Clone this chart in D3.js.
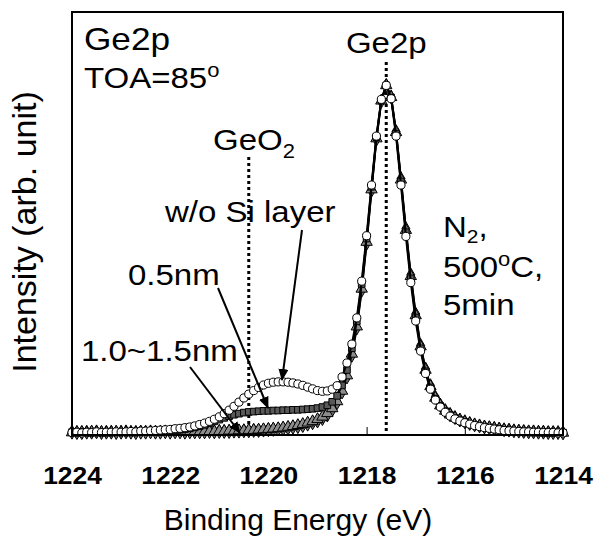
<!DOCTYPE html>
<html>
<head>
<meta charset="utf-8">
<script src="https://cdn.jsdelivr.net/npm/d3@7"></script>
<style>
  body { margin: 0; background: #fff; }
  text { font-family: "Liberation Sans", Arial, sans-serif; fill: #000; }
</style>
</head>
<body>
<div id="chart"></div>
<script>
// binding energy (eV), 0.1 eV steps
const energies = [
  1224.0,1223.9,1223.8,1223.7,1223.6,1223.5,1223.4,1223.3,1223.2,1223.1,
  1223.0,1222.9,1222.8,1222.7,1222.6,1222.5,1222.4,1222.3,1222.2,1222.1,
  1222.0,1221.9,1221.8,1221.7,1221.6,1221.5,1221.4,1221.3,1221.2,1221.1,
  1221.0,1220.9,1220.8,1220.7,1220.6,1220.5,1220.4,1220.3,1220.2,1220.1,
  1220.0,1219.9,1219.8,1219.7,1219.6,1219.5,1219.4,1219.3,1219.2,1219.1,
  1219.0,1218.9,1218.8,1218.7,1218.6,1218.5,1218.4,1218.3,1218.2,1218.1,
  1218.0,1217.9,1217.8,1217.7,1217.6,1217.5,1217.4,1217.3,1217.2,1217.1,
  1217.0,1216.9,1216.8,1216.7,1216.6,1216.5,1216.4,1216.3,1216.2,1216.1,
  1216.0,1215.9,1215.8,1215.7,1215.6,1215.5,1215.4,1215.3,1215.2,1215.1,
  1215.0,1214.9,1214.8,1214.7,1214.6,1214.5,1214.4,1214.3,1214.2,1214.1,
  1214.0
];

// normalized intensity (peak = 1000)
const woSi = [
  7,8,6,8,7,9,7,8,8,9,8,9,10,9,11,11,
  12,13,14,15,16,18,19,21,23,26,
  30,34,39,45,52,61,71,82,94,106,
  117,127,136,143,148,151,152,152,151,149,
  146,142,137,132,127,125,126,131,141,166,
  206,260,335,440,570,715,855,960,1000,962,
  855,715,568,436,326,240,176,131,100,80,
  65,54,46,40,35,31,27,24,21,19,
  17,15,13,12,11,10,9,9,8,8,
  7,7,7,6,6
];
const nm05 = [
  8,7,9,8,8,7,9,8,9,8,9,8,9,10,9,10,
  10,10,11,11,12,13,15,17,19,22,
  25,29,34,39,44,49,54,58,61,64,
  66,67,68,69,69,70,70,71,71,72,
  72,73,74,75,77,80,85,95,112,142,
  186,248,325,432,562,710,852,958,1000,965,
  862,725,580,448,336,248,182,136,104,83,
  68,57,48,42,37,32,28,25,22,20,
  18,16,14,13,12,11,10,10,9,9,
  8,8,7,7,7
];
const nm10 = [
  7,8,8,7,9,8,8,7,8,9,8,8,7,8,9,8,
  8,9,8,8,9,9,8,9,9,10,
  9,10,10,10,11,11,12,12,13,13,
  14,14,15,16,17,18,19,21,23,25,
  28,31,35,39,45,52,62,76,96,126,
  170,232,310,418,552,702,848,956,1000,966,
  866,730,586,454,342,253,186,139,106,84,
  69,58,49,42,37,33,29,26,23,21,
  19,17,15,13,12,11,10,9,9,8,
  8,7,7,6,6
];
const nm15 = [
  8,7,7,8,8,9,7,8,8,7,8,9,8,7,8,8,
  9,8,8,9,8,9,9,8,9,9,
  9,9,10,9,10,10,10,11,11,12,
  12,13,13,14,15,16,17,18,20,22,
  24,27,31,35,40,47,57,72,93,123,
  166,228,306,414,548,700,846,955,1000,967,
  868,733,590,458,346,256,189,141,108,86,
  70,59,50,43,38,33,29,26,23,21,
  19,17,15,14,12,11,10,9,9,8,
  8,7,7,7,6
];

const xTicks = [1224, 1222, 1220, 1218, 1216, 1214];
const peakLines = [1220.4, 1217.6];   // GeO2, Ge2p reference positions

const w = 596, h = 545;
const box = { left: 72, right: 563, top: 12, bottom: 435 };
const sx = 1.1; // the original text is a little wider than plain Arial

const xScale = d3.scaleLinear().domain([1224, 1214]).range([box.left, box.right]);
const yScale = d3.scaleLinear().domain([0, 1210]).range([box.bottom, box.top]);

const svg = d3.select("#chart").append("svg")
  .attr("width", w).attr("height", h);

svg.append("defs").append("marker")
  .attr("id", "arrow")
  .attr("markerUnits", "userSpaceOnUse")
  .attr("markerWidth", 12).attr("markerHeight", 10)
  .attr("refX", 11).attr("refY", 5)
  .attr("orient", "auto")
  .append("path").attr("d", "M0,0L12,5L0,10z").attr("fill", "#000");

// dotted reference lines
svg.selectAll(".ref")
  .data(peakLines)
  .enter().append("line")
  .attr("x1", d => xScale(d)).attr("x2", d => xScale(d))
  .attr("y1", (d, i) => i === 0 ? 157 : 62)
  .attr("y2", box.bottom)
  .attr("stroke", "#000").attr("stroke-width", 3)
  .attr("stroke-dasharray", "3,3");

// x axis with inside ticks
const xAxis = d3.axisBottom(xScale).tickValues(xTicks).tickSize(-8).tickPadding(32)
  .tickFormat(d3.format("d"));
const gx = svg.append("g")
  .attr("transform", `translate(0,${box.bottom})`)
  .call(xAxis);
gx.select(".domain").remove();
gx.selectAll(".tick line").attr("stroke", "#000").attr("stroke-width", 1);
gx.selectAll(".tick text")
  .attr("font-family", "Liberation Sans, Arial, sans-serif")
  .attr("font-size", 24).attr("font-weight", "bold").attr("fill", "#000")
  .attr("transform", `scale(${sx},1)`);

// series, drawn back to front
const series = [
  { name: "1.5nm", values: nm15, shape: d3.symbolDiamond, fill: "#737373", size: 56 },
  { name: "1.0nm", values: nm10, shape: d3.symbolTriangle, fill: "#8c8c8c", size: 56 },
  { name: "0.5nm", values: nm05, shape: d3.symbolSquare, fill: "#595959", size: 44 },
  { name: "w/o Si", values: woSi, shape: d3.symbolCircle, fill: "#ffffff", size: 52 }
];

const line = d3.line()
  .x((d, i) => xScale(energies[i]))
  .y(d => yScale(d));

series.forEach(s => {
  const g = svg.append("g");
  g.append("path")
    .datum(s.values)
    .attr("d", line)
    .attr("fill", "none")
    .attr("stroke", "#000")
    .attr("stroke-width", 2);
  g.selectAll("path.pt")
    .data(s.values)
    .enter().append("path")
    .attr("class", "pt")
    .attr("d", d3.symbol().type(s.shape).size(s.size))
    .attr("transform", (d, i) => `translate(${xScale(energies[i])},${yScale(d)})`)
    .attr("fill", s.fill)
    .attr("stroke", "#000")
    .attr("stroke-width", 1);
});

// plot frame
svg.append("rect")
  .attr("x", box.left).attr("y", box.top)
  .attr("width", box.right - box.left).attr("height", box.bottom - box.top)
  .attr("fill", "none").attr("stroke", "#000").attr("stroke-width", 2);

// axis titles
svg.append("text")
  .attr("x", w / 2).attr("y", 530)
  .attr("text-anchor", "middle").attr("font-size", 30)
  .text("Binding Energy (eV)");

svg.append("text")
  .attr("transform", "translate(36,232) rotate(-90)")
  .attr("text-anchor", "middle").attr("font-size", 34)
  .text("Intensity (arb. unit)");

// annotations (stretched horizontally like the original)
function label(x, y, size) {
  return svg.append("text")
    .attr("transform", `translate(${x},${y}) scale(${sx},1)`)
    .attr("font-size", size);
}

label(84, 50, 32).text("Ge2p");

const toa = label(84, 88, 30);
toa.append("tspan").text("TOA=85");
toa.append("tspan").attr("font-size", 20).attr("dy", -11).text("o");

const geo2 = label(213, 150, 30);
geo2.append("tspan").text("GeO");
geo2.append("tspan").attr("font-size", 20).attr("dy", 8).text("2");

label(xScale(peakLines[1]), 53, 30).attr("text-anchor", "middle").text("Ge2p");

label(165, 222, 30).text("w/o Si layer");
label(128, 285, 30).text("0.5nm");
label(81, 361, 30).text("1.0~1.5nm");

const n2 = label(443, 237, 30);
n2.append("tspan").text("N");
n2.append("tspan").attr("font-size", 19).attr("dy", 6).text("2");
n2.append("tspan").attr("dy", -6).text(",");

const temp = label(443, 277, 30);
temp.append("tspan").text("500");
temp.append("tspan").attr("font-size", 20).attr("dy", -11).text("o");
temp.append("tspan").attr("dy", 11).text("C,");

label(443, 315, 30).text("5min");

// arrows
const arrows = [
  [302, 230, 282, 380],
  [218, 288, 268, 408],
  [190, 367, 240, 433]
];
svg.selectAll(".arrow")
  .data(arrows)
  .enter().append("line")
  .attr("x1", d => d[0]).attr("y1", d => d[1])
  .attr("x2", d => d[2]).attr("y2", d => d[3])
  .attr("stroke", "#000").attr("stroke-width", 2)
  .attr("marker-end", "url(#arrow)");
</script>
</body>
</html>
